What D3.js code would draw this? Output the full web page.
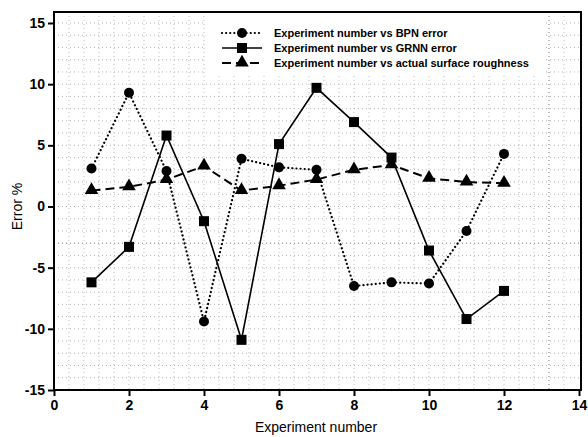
<!DOCTYPE html>
<meta charset="utf-8">
<script src="https://d3js.org/d3.v7.min.js"></script>
<style>
  body { margin: 0; background: #fff; }
  text { font-family: "Liberation Sans", Arial, sans-serif; }
</style>
<div id="chart"></div>
<script>

// experiment numbers
const experiments = [1, 2, 3, 4, 5, 6, 7, 8, 9, 10, 11, 12];

// series values
const bpnError = [3.1, 9.3, 2.9, -9.4, 3.9, 3.2, 3.0, -6.5, -6.2, -6.3, -2.0, 4.3];
const grnnError = [-6.2, -3.3, 5.8, -1.2, -10.9, 5.1, 9.7, 6.9, 4.0, -3.6, -9.2, -6.9];
const actualRoughness = [1.3, 1.6, 2.2, 3.3, 1.3, 1.7, 2.2, 3.0, 3.4, 2.3, 2.0, 1.9];

const seriesNames = [
  "Experiment number vs BPN error",
  "Experiment number vs GRNN error",
  "Experiment number vs actual surface roughness"
];

const xTicks = [0, 2, 4, 6, 8, 10, 12, 14];
const yTicks = [-15, -10, -5, 0, 5, 10, 15];

const W = 588, H = 437;
const mLeft = 54, mRight = 581, mTop = 12, mBottom = 390;

const svg = d3.select("#chart").append("svg")
  .attr("width", W).attr("height", H);

const x = d3.scaleLinear().domain([0, 14]).range([mLeft, mRight - 2]);
const y = d3.scaleLinear().domain([-15, 15]).range([mBottom, 23]);

// dotted grid
const grid = svg.append("g");
grid.selectAll(".gh")
  .data(d3.range(-15, 16, 1))
  .join("line")
    .attr("x1", mLeft).attr("x2", mRight)
    .attr("y1", d => y(d)).attr("y2", d => y(d))
    .attr("stroke", d => d === -3 ? "#777" : "#b5b5b5").attr("stroke-width", 1)
    .attr("stroke-dasharray", "1,3");
grid.selectAll(".gv")
  .data(d3.range(0.4, 14, 0.4))
  .join("line")
    .attr("x1", d => x(d)).attr("x2", d => x(d))
    .attr("y1", mTop).attr("y2", mBottom)
    .attr("stroke", d => Math.abs(d - 13.2) < 0.01 ? "#777" : "#bdbdbd").attr("stroke-width", 1)
    .attr("stroke-dasharray", "1,3");

// legend background
svg.append("rect")
  .attr("x", 205).attr("y", mTop + 1).attr("width", 338).attr("height", 63)
  .attr("fill", "#fff");

// axes
const fmt = d => String(d).replace("\u2212", "-");
const xAxis = svg.append("g")
  .attr("transform", `translate(0,${mBottom})`)
  .call(d3.axisBottom(x).tickValues(xTicks).tickSize(6).tickPadding(4).tickFormat(fmt));
const yAxis = svg.append("g")
  .attr("transform", `translate(${mLeft},0)`)
  .call(d3.axisLeft(y).tickValues(yTicks).tickSize(6).tickPadding(3).tickFormat(fmt));

[xAxis, yAxis].forEach(a => {
  a.select(".domain").remove();
  a.selectAll("line").attr("stroke", "#000").attr("stroke-width", 2);
  a.selectAll("text")
    .attr("fill", "#000")
    .style("font-size", "14px")
    .style("font-weight", "bold");
});

// frame
svg.append("rect")
  .attr("x", mLeft).attr("y", mTop)
  .attr("width", mRight - mLeft).attr("height", mBottom - mTop)
  .attr("fill", "none").attr("stroke", "#000").attr("stroke-width", 2);

// axis titles
svg.append("text")
  .attr("x", 316).attr("y", 432)
  .attr("text-anchor", "middle")
  .style("font-size", "14px")
  .text("Experiment number");
svg.append("text")
  .attr("transform", `translate(22,${y(0)}) rotate(-90)`)
  .attr("text-anchor", "middle")
  .style("font-size", "14px")
  .text("Error %");

const series = [
  {name: seriesNames[0], values: bpnError, dash: "0.1,4", width: 2.2, cap: "round", marker: "circle"},
  {name: seriesNames[1], values: grnnError, dash: null, width: 1.6, cap: "butt", marker: "square"},
  {name: seriesNames[2], values: actualRoughness, dash: "9,5", width: 2, cap: "butt", marker: "triangle"}
];

const line = d3.line()
  .x((d, i) => x(experiments[i]))
  .y(d => y(d));

function drawMarker(g, type, cx, cy) {
  if (type === "circle") {
    g.append("circle").attr("cx", cx).attr("cy", cy).attr("r", 5).attr("fill", "#000");
  } else if (type === "square") {
    g.append("rect").attr("x", cx - 5).attr("y", cy - 5).attr("width", 10).attr("height", 10).attr("fill", "#000");
  } else {
    g.append("path")
      .attr("d", d3.symbol().type(d3.symbolTriangle).size(80)())
      .attr("transform", `translate(${cx},${cy - 0.5})`)
      .attr("fill", "#000");
  }
}

series.forEach(s => {
  const g = svg.append("g");
  g.append("path")
    .datum(s.values)
    .attr("d", line)
    .attr("fill", "none")
    .attr("stroke", "#000")
    .attr("stroke-width", s.width)
    .attr("stroke-linecap", s.cap)
    .attr("stroke-dasharray", s.dash);
  s.values.forEach((v, i) => drawMarker(g, s.marker, x(experiments[i]), y(v)));
});

// legend
const legend = svg.append("g");
series.forEach((s, i) => {
  const ly = 33 + i * 15;
  legend.append("line")
    .attr("x1", 222).attr("x2", 262).attr("y1", ly).attr("y2", ly)
    .attr("stroke", "#000").attr("stroke-width", s.width)
    .attr("stroke-linecap", s.cap)
    .attr("stroke-dasharray", s.dash);
  drawMarker(legend, s.marker, 242, ly);
  legend.append("text")
    .attr("x", 274).attr("y", ly + 4)
    .style("font-size", "11px")
    .style("font-weight", "bold")
    .text(s.name);
});

</script>
